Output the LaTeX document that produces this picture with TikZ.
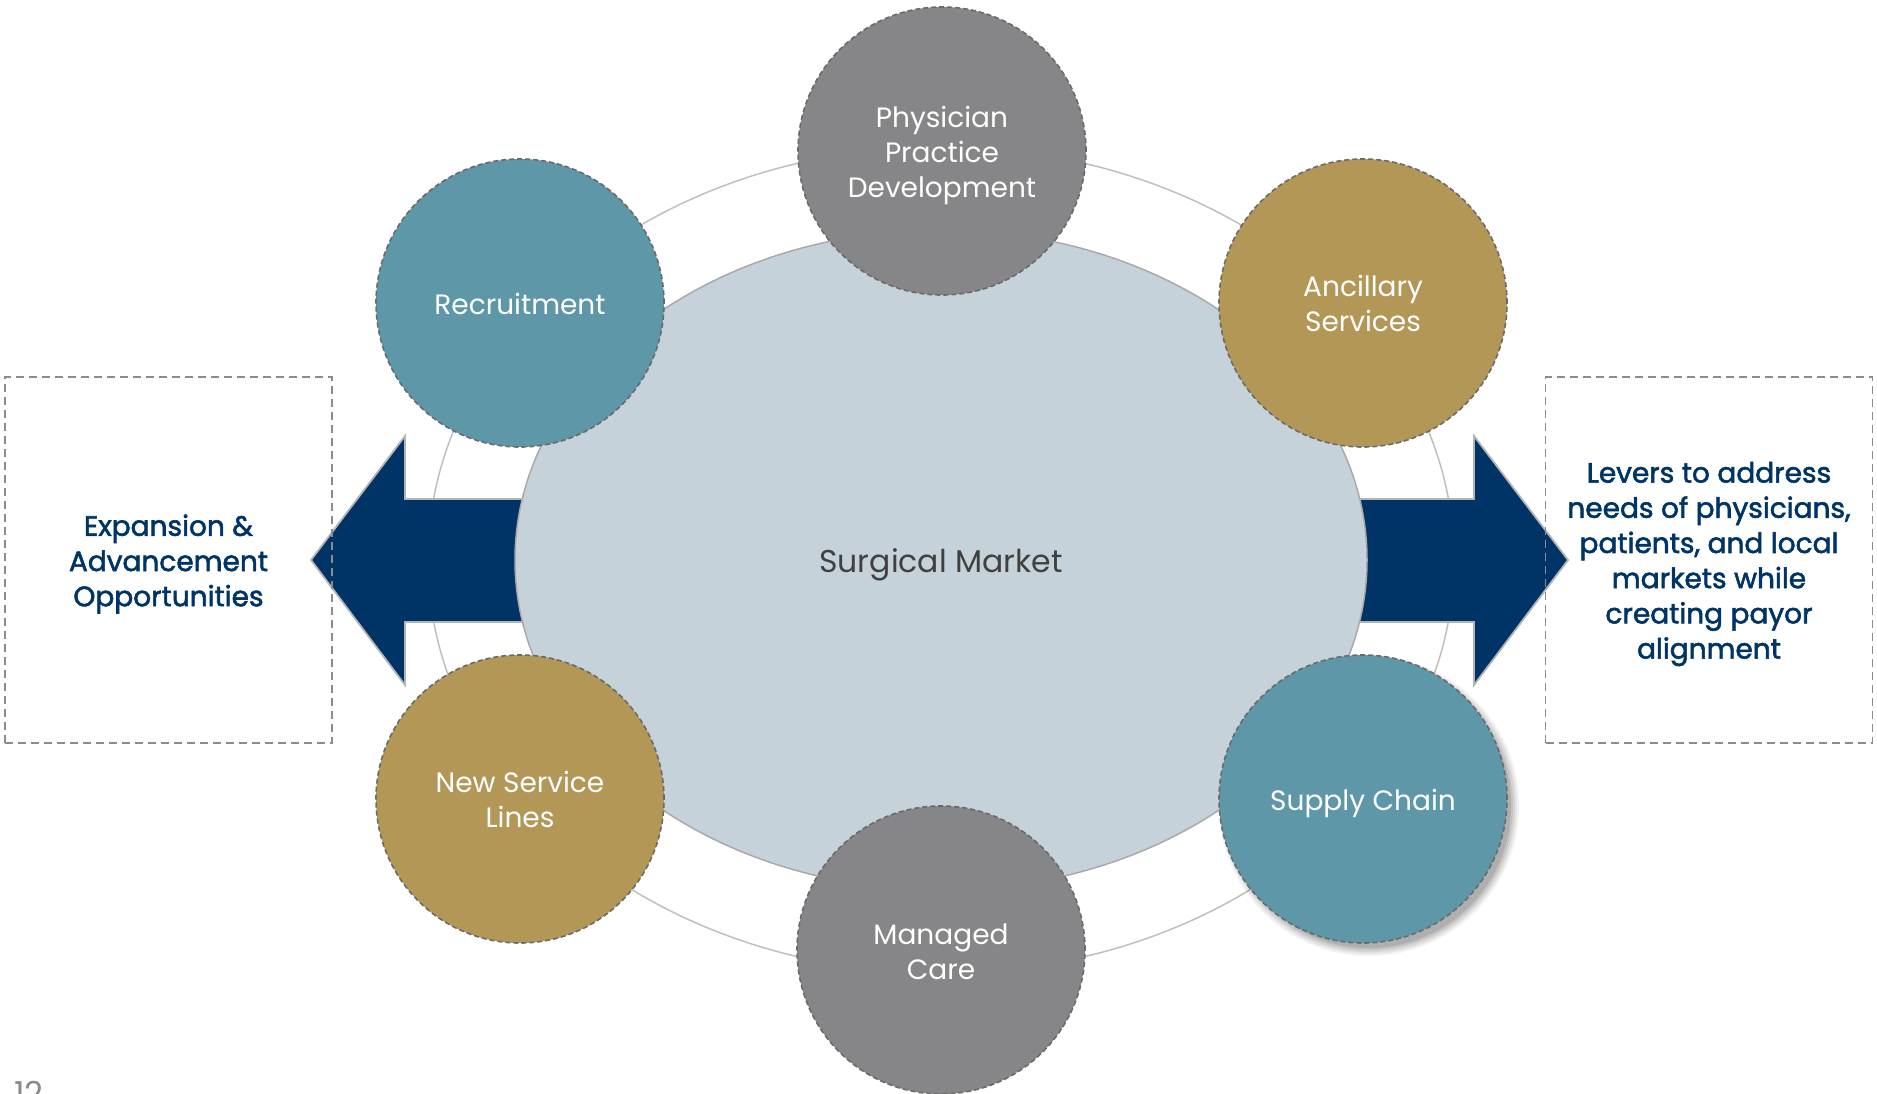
\documentclass[tikz,border=0pt]{standalone}
\usepackage{fontspec}
\setmainfont{Poppins}
\newfontfamily\boxfont[FakeBold=2]{Poppins}
\usetikzlibrary{shapes.geometric}
\definecolor{ringgray}{HTML}{BFBFBF}
\definecolor{marketfill}{HTML}{C6D2D9}
\definecolor{marketline}{HTML}{A9A9A9}
\definecolor{navy}{HTML}{003466}
\definecolor{leverteal}{HTML}{5E97A8}
\definecolor{levergold}{HTML}{B39757}
\definecolor{levergray}{HTML}{868688}
\definecolor{dashgray}{HTML}{6A6A6A}
\definecolor{boxgray}{HTML}{8C8C8C}
\definecolor{arrowedge}{HTML}{B4B4B4}
\definecolor{markettext}{HTML}{404040}
\definecolor{pagegray}{HTML}{8A8A8A}
\begin{document}
\begin{tikzpicture}[x=1pt,y=-1pt,
  lever/.style={circle, minimum size=288pt, inner sep=0pt, draw=dashgray,
    line width=1.6pt, dash pattern=on 5pt off 3pt},
  levertext/.style={inner sep=0pt, text=white, align=center, yshift=-4pt,
    font=\fontsize{28}{35}\selectfont},
  nodescender/.style={yshift=3.5pt},
  sidebox/.style={draw=boxgray, line width=1.8pt, dash pattern=on 8pt off 5pt,
    minimum width=327pt, minimum height=366pt, inner sep=0pt},
  sidetext/.style={inner sep=0pt, align=center, text=navy, yshift=-4pt,
    font=\boxfont\fontsize{28}{35.2}\selectfont},
  bigarrow/.style={fill=navy, draw=arrowedge, line width=1.8pt, line join=miter}]
\useasboundingbox (0,0) rectangle (1877,1094);

% thin outer ring
\draw[ringgray, line width=1.5pt] (941,560) ellipse [x radius=513, y radius=413];

% two broad arrows pointing outwards
\draw[bigarrow] (560,499) -- (405,499) -- (405,436) -- (311,560) -- (405,685)
  -- (405,622) -- (560,622) -- cycle;
\draw[bigarrow] (1322,499) -- (1474,499) -- (1474,436) -- (1568,560) -- (1474,685)
  -- (1474,622) -- (1322,622) -- cycle;

% central market
\node (market) [ellipse, minimum width=852pt, minimum height=660pt, inner sep=0pt,
  fill=marketfill, draw=marketline, line width=1.5pt] at (941,560) {};
\node (market-label) [inner sep=0pt, text=markettext, yshift=-4.5pt,
  font=\fontsize{31.5}{35}\selectfont] at (market) {Surgical Market};

% soft shadow under one lever
\foreach \r/\o in {150/0.05,148/0.06,146/0.07,144/0.08,142/0.1}
  \fill[black, opacity=\o] (1369,806) circle[radius=\r];

% levers around the market
\node (physician) [lever, fill=levergray] at (942,151) {};
\node (recruit) [lever, fill=leverteal] at (520,303) {};
\node (ancillary) [lever, fill=levergold] at (1363,303) {};
\node (newlines) [lever, fill=levergold] at (520,799) {};
\node (supply) [lever, fill=leverteal] at (1363,799) {};
\node (managed) [lever, fill=levergray] at (941,950) {};

\node (physician-label) [levertext] at (physician) {Physician\\Practice\\Development};
\node (recruit-label) [levertext, nodescender] at (recruit) {Recruitment};
\node (ancillary-label) [levertext, nodescender] at (ancillary) {Ancillary\\Services};
\node (newlines-label) [levertext, nodescender] at (newlines) {New Service\\Lines};
\node (supply-label) [levertext] at (supply) {Supply Chain};
\node (managed-label) [levertext, yshift=2pt] at (managed) {Managed\\Care};

% side notes
\node (expansion) [sidebox] at (168.5,560) {};
\node (levers) [sidebox] at (1709,560) {};
\node (expansion-label) [sidetext] at (expansion) {Expansion \&\\Advancement\\Opportunities};
\node (levers-label) [sidetext] at (levers) {Levers to address\\needs of physicians,\\patients, and local\\markets while\\creating payor\\alignment};

% page number
\node (pagenum) [anchor=north west, inner sep=0pt, text=pagegray,
  font=\fontsize{33}{33}\selectfont] at (14,1081) {12};
\end{tikzpicture}
\end{document}
